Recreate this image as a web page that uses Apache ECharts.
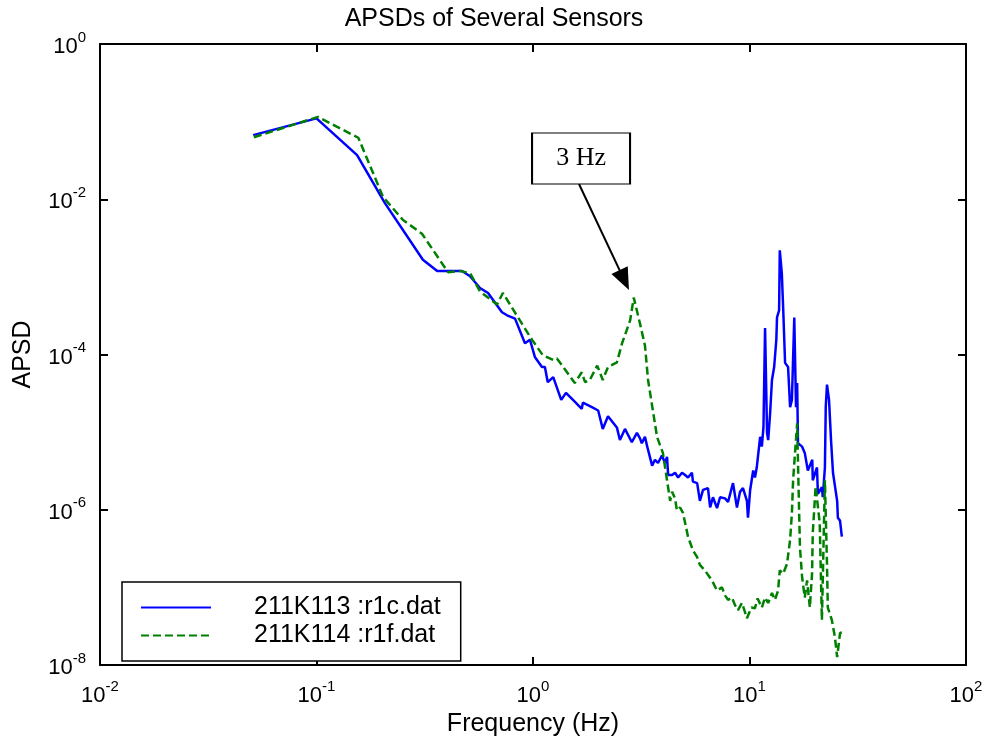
<!DOCTYPE html>
<html>
<head>
<meta charset="utf-8">
<title>APSDs of Several Sensors</title>
<script src="https://cdn.jsdelivr.net/npm/echarts@6/dist/echarts.min.js"></script>
<style>
  html, body { margin: 0; padding: 0; background: #fff; }
  #chart { width: 988px; height: 747px; }
</style>
</head>
<body>
<div id="chart"></div>
<script>
// 211K113 :r1c.dat  (blue, solid)
var blueFreq = [0.051,0.1,0.154,0.207,0.31,0.361,0.47,0.512,0.569,0.62,0.719,0.759,0.826,0.918,0.968,
  1.02,1.1,1.135,1.17,1.24,1.35,1.42,1.53,1.68,1.70,1.87,2.0,2.1,2.22,2.44,2.52,2.66,2.86,3.02,
  3.12,3.18,3.29,3.37,3.55,3.66,3.78,3.94,4.07,4.16,4.21,4.39,4.53,4.68,4.88,5.04,5.20,5.42,5.48,5.73,
  5.90,6.10,6.43,6.58,6.78,7.08,7.31,7.71,7.96,8.39,8.75,9.04,9.33,9.73,9.84,10.07,10.4,10.6,10.8,11.2,
  11.4,11.6,11.8,12.05,12.2,12.45,12.7,13.0,13.3,13.4,13.7,13.8,14.1,14.3,14.6,15.07,15.4,15.7,16.1,16.4,
  16.6,16.75,17.5,18.0,18.6,19.5,19.6,20.5,20.7,21.6,21.8,22.3,22.5,22.8,23.3,23.8,24.3,25.4,25.6,26.2,26.7];
var blueApsd = [6.7e-2,1.1e-1,3.7e-2,8.9e-3,1.66e-3,1.19e-3,1.19e-3,1.02e-3,7.2e-4,6.2e-4,3.5e-4,3.2e-4,2.9e-4,1.4e-4,1.55e-4,
  9.3e-5,6.9e-5,6.9e-5,4.4e-5,5.1e-5,2.6e-5,3.2e-5,2.6e-5,2.0e-5,2.4e-5,2.1e-5,1.9e-5,1.1e-5,1.6e-5,1.15e-5,7.9e-6,1.1e-5,7.4e-6,9.8e-6,
  8.3e-6,7.2e-6,8.7e-6,6.5e-6,3.7e-6,4.4e-6,4.0e-6,5.0e-6,4.0e-6,4.8e-6,2.8e-6,2.8e-6,3.0e-6,2.6e-6,3.0e-6,2.8e-6,2.6e-6,3.0e-6,2.3e-6,2.2e-6,
  1.3e-6,1.8e-6,1.9e-6,1.07e-6,1.45e-6,1.05e-6,1.45e-6,1.4e-6,1.26e-6,2.2e-6,1.07e-6,1.7e-6,1.9e-6,1.3e-6,7.9e-7,1.8e-6,3.2e-6,2.6e-6,3.5e-6,8.7e-6,
  6.5e-6,1.15e-5,2.2e-4,9.8e-6,7.9e-6,1.74e-5,4.7e-5,6.9e-5,1.55e-4,3.0e-4,3.7e-4,2.2e-3,1.12e-3,4.1e-4,7.8e-5,6.9e-5,2.1e-5,2.6e-5,3.0e-4,2.1e-5,
  4.3e-5,7.2e-6,6.5e-6,5.4e-6,3.2e-6,4.4e-6,2.4e-6,3.5e-6,1.6e-6,1.95e-6,1.45e-6,3.5e-6,2.1e-5,4.1e-5,2.6e-5,7.9e-6,3.0e-6,1.3e-6,7.9e-7,7.2e-7,4.5e-7];

// 211K114 :r1f.dat  (green, dashed)
var greenFreq = [0.0514,0.1016,0.156,0.203,0.251,0.307,0.405,0.46,0.512,0.569,0.682,0.726,0.853,0.989,1.11,
  1.24,1.29,1.56,1.68,1.74,1.83,1.98,2.1,2.22,2.44,2.58,2.81,2.92,3.12,3.29,3.4,3.62,3.74,
  3.86,3.98,4.16,4.30,4.39,4.53,4.62,4.78,4.93,5.20,5.48,5.73,5.90,6.22,6.43,6.71,7.08,7.46,7.71,7.96,
  8.30,8.57,8.85,9.23,9.53,9.73,10.2,10.6,10.9,11.4,11.8,12.2,12.7,13.1,13.55,13.8,14.3,14.9,15.4,15.7,15.9,
  16.6,16.75,17.1,17.5,18.0,18.45,19.0,19.45,19.6,20.2,21.1,21.6,22.3,22.8,23.0,24.0,24.8,25.4,26.2,26.7];
var greenApsd = [6.3e-2,1.15e-1,6.2e-2,1.07e-2,5.4e-3,3.6e-3,1.15e-3,1.19e-3,1.12e-3,6.5e-4,4.4e-4,6.2e-4,3.0e-4,1.55e-4,9.8e-5,
  8.5e-5,8.9e-5,4.3e-5,5.9e-5,4.4e-5,4.7e-5,7.2e-5,4.7e-5,6.9e-5,7.9e-5,1.4e-4,2.75e-4,5.4e-4,2.5e-4,1.3e-4,4.7e-5,1.55e-5,8.7e-6,
  6.8e-6,5.4e-6,2.4e-6,1.3e-6,1.7e-6,1.4e-6,9.8e-7,1.07e-6,9.1e-7,4.5e-7,3.0e-7,2.45e-7,1.95e-7,1.66e-7,1.45e-7,1.23e-7,9.1e-8,1.0e-7,7.9e-8,6.9e-8,
  7.4e-8,5.9e-8,5.1e-8,6.3e-8,4.8e-8,4.0e-8,5.5e-8,5.4e-8,7.2e-8,5.5e-8,7.4e-8,6.3e-8,8.5e-8,6.9e-8,9.1e-8,1.66e-7,1.5e-7,2.0e-7,4.1e-7,9.1e-7,2.4e-6,
  1.3e-5,4.0e-6,3.3e-7,1.35e-7,7.4e-8,1.23e-7,5.5e-8,1.5e-7,5.0e-7,2.0e-6,6.8e-7,3.8e-8,2.4e-6,2.0e-7,5.5e-8,3.8e-8,2.3e-8,1.26e-8,2.6e-8,2.6e-8];

var seriesNames = ['211K113 :r1c.dat', '211K114 :r1f.dat'];
var xRange = [0.01, 100];
var yRange = [1e-8, 1];

// "3 Hz" note and its arrow, in data units
var noteText = '3 Hz';
var noteAt = [1.667, 3.35e-2];
var arrowFrom = [1.631, 1.57e-2];
var arrowTo = [2.64, 9.1e-4];

var font = 'Liberation Sans, Arial, sans-serif';

function pairs(xs, ys) {
  return xs.map(function (x, i) { return [x, ys[i]]; });
}

// 10 with the exponent as superscript
function powLabel(v) {
  var e = Math.round(Math.log(v) / Math.LN10);
  return '{b|10}{s|' + e + '}';
}
var powRich = {
  b: { fontSize: 22, fontFamily: font, color: '#000', lineHeight: 28, verticalAlign: 'bottom' },
  s: { fontSize: 15, fontFamily: font, color: '#000', lineHeight: 15, verticalAlign: 'top' }
};

var frameLine = { show: true, lineStyle: { color: '#000', width: 2 } };
var innerTick = { show: true, inside: true, length: 8, lineStyle: { color: '#000', width: 2 } };

var chart = echarts.init(document.getElementById('chart'), null, { renderer: 'canvas' });

var option = {
  animation: false,
  backgroundColor: '#fff',
  title: {
    text: 'APSDs of Several Sensors',
    left: 'center',
    top: 2,
    textStyle: { fontFamily: font, fontSize: 25, fontWeight: 'normal', color: '#000' }
  },
  grid: { left: 100, top: 44, right: 22, bottom: 82 },
  legend: {
    data: seriesNames,
    orient: 'vertical',
    left: 122,
    top: 582,
    padding: [13, 20, 13, 18],
    itemWidth: 70,
    itemHeight: 14,
    itemGap: 3,
    borderColor: '#000',
    borderWidth: 1.5,
    backgroundColor: '#fff',
    itemStyle: { opacity: 0 },
    textStyle: { fontFamily: font, fontSize: 25, color: '#000', lineHeight: 20, padding: [0, 0, 0, 38] }
  },
  xAxis: [{
    type: 'log',
    logBase: 10,
    min: xRange[0],
    max: xRange[1],
    name: 'Frequency (Hz)',
    nameLocation: 'middle',
    nameGap: 45,
    nameTextStyle: { fontFamily: font, fontSize: 25, color: '#000' },
    axisLine: frameLine,
    axisTick: innerTick,
    minorTick: { show: false },
    splitLine: { show: false },
    axisLabel: { margin: 14, formatter: powLabel, rich: powRich }
  }, {
    type: 'log',
    logBase: 10,
    min: xRange[0],
    max: xRange[1],
    position: 'top',
    axisLine: frameLine,
    axisTick: innerTick,
    splitLine: { show: false },
    axisLabel: { show: false }
  }],
  yAxis: [{
    type: 'log',
    logBase: 10,
    min: yRange[0],
    max: yRange[1],
    interval: 2,
    name: 'APSD',
    nameLocation: 'middle',
    nameGap: 64,
    nameTextStyle: { fontFamily: font, fontSize: 25, color: '#000' },
    axisLine: frameLine,
    axisTick: innerTick,
    splitLine: { show: false },
    axisLabel: { margin: 14, formatter: powLabel, rich: powRich }
  }, {
    type: 'log',
    logBase: 10,
    min: yRange[0],
    max: yRange[1],
    interval: 2,
    position: 'right',
    axisLine: frameLine,
    axisTick: innerTick,
    splitLine: { show: false },
    axisLabel: { show: false }
  }],
  series: [{
    name: seriesNames[0],
    type: 'line',
    xAxisIndex: 0,
    yAxisIndex: 0,
    data: pairs(blueFreq, blueApsd),
    symbol: 'none',
    color: '#0000ff',
    lineStyle: { color: '#0000ff', width: 2.5 },
    z: 3
  }, {
    name: seriesNames[1],
    type: 'line',
    xAxisIndex: 0,
    yAxisIndex: 0,
    data: pairs(greenFreq, greenApsd),
    symbol: 'none',
    color: '#008000',
    lineStyle: { color: '#008000', width: 2.5, type: [8, 4] },
    z: 4,
    markLine: {
      silent: true,
      symbol: ['none', 'triangle'],
      symbolSize: [18, 22],
      label: { show: false },
      lineStyle: { color: '#000', width: 2, type: 'solid' },
      itemStyle: { color: '#000' },
      data: [[{ coord: arrowFrom }, { coord: arrowTo }]]
    },
    markPoint: {
      silent: true,
      symbol: 'rect',
      symbolSize: [98, 51],
      itemStyle: { color: '#fff', borderColor: '#000', borderWidth: 1.5 },
      label: {
        show: true,
        position: 'inside',
        formatter: noteText,
        fontFamily: 'Liberation Serif, Times New Roman, serif',
        fontSize: 26,
        color: '#000'
      },
      data: [{ coord: noteAt }]
    }
  }]
};

chart.setOption(option);
</script>
</body>
</html>
